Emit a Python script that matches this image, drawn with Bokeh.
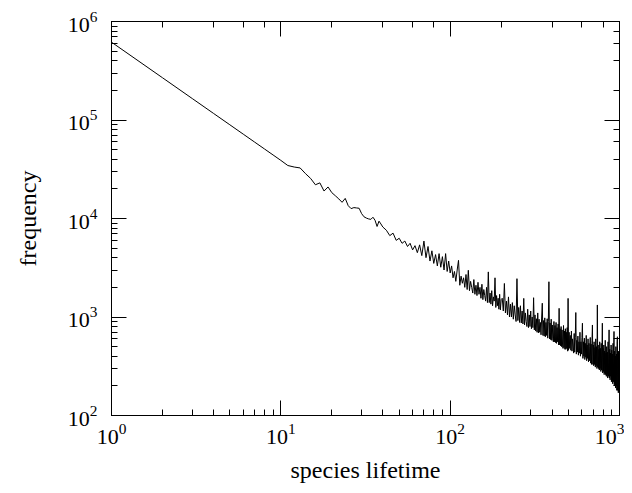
from bokeh.plotting import figure
from bokeh.models import LogAxis, LogTicker, Range1d, ColumnDataSource, CustomJSTickFormatter
from bokeh.embed import file_html
from bokeh.resources import INLINE

lifetime_a = list(range(1, 41))
freq_a = [617000, 268500, 165000, 116800, 89400, 71800, 59700, 50850, 44150, 38900,
          34500, 33300, 32600, 28500, 25500, 22000, 23000, 19000, 20900, 18300,
          17000, 15800, 14600, 16000, 13500, 12600, 12900, 12800, 12700, 11200,
          10400, 10100, 9900, 9800, 10300, 9600, 8300, 9400, 8800, 8200]

lifetime_b = list(range(42, 101, 2))
freq_b = [7600, 6700, 7100, 6000, 6300, 5600, 5900, 5200, 5600, 4800,
          5300, 4500, 5400, 4200, 5900, 4000, 5200, 3700, 4700, 3500,
          4300, 3300, 4400, 3200, 4100, 3000, 4400, 2900, 3700, 2800]

lifetime_c = list(range(102, 201, 2))
freq_c = [3300, 2500, 2900, 2300, 3000, 3760, 2100, 2600, 2200, 2500,
          2000, 2700, 1900, 2980, 1850, 2300, 2000, 1750, 2400, 1700,
          2100, 1650, 2250, 1700, 2000, 1550, 2150, 1500, 1900, 1650,
          1450, 2000, 1400, 2870, 1400, 1750, 1350, 1850, 1300, 1600,
          1450, 2500, 1250, 1650, 1300, 1550, 1200, 1700, 1180, 1500]

lifetime_d = list(range(203, 501, 3))
freq_d = [1550, 1150, 2190, 1100, 1450, 1050, 1600, 1000, 1350, 1000,
          1400, 950, 1300, 1050, 900, 2450, 920, 1250, 880, 1300,
          870, 1150, 850, 1545, 830, 1100, 900, 800, 1200, 780,
          1050, 800, 1150, 760, 1000, 780, 1570, 740, 1050, 720,
          960, 700, 1100, 690, 950, 700, 880, 660, 1000, 1380,
          650, 920, 640, 980, 630, 880, 650, 960, 610, 900,
          2280, 600, 870, 590, 950, 580, 830, 600, 560, 900,
          560, 820, 550, 880, 540, 780, 560, 850, 520, 1225,
          520, 760, 510, 800, 500, 740, 520, 480, 820, 490,
          720, 470, 760, 470, 700, 480, 780, 450, 1545, 460]

lifetime_e = list(range(504, 1001, 4))
freq_e = [700, 480, 650, 460, 720, 450, 600, 520, 430, 680,
          440, 620, 1110, 420, 580, 440, 640, 410, 560, 430,
          700, 400, 560, 420, 620, 865, 380, 560, 400, 610,
          370, 540, 390, 650, 360, 520, 380, 600, 350, 540,
          360, 500, 620, 340, 530, 330, 580, 830, 330, 520,
          320, 560, 330, 490, 310, 600, 320, 500, 300, 1325,
          310, 520, 300, 470, 290, 560, 300, 480, 280, 540,
          290, 450, 865, 270, 480, 280, 520, 260, 450, 270,
          580, 260, 430, 250, 500, 260, 440, 240, 560, 250,
          420, 740, 240, 470, 230, 430, 250, 520, 220, 460,
          230, 420, 210, 540, 220, 440, 713, 200, 450, 210,
          400, 190, 500, 200, 420, 180, 560, 630, 180, 420,
          170, 450, 175, 380, 200]

lifetime = lifetime_a + lifetime_b + lifetime_c + lifetime_d + lifetime_e
frequency = freq_a + freq_b + freq_c + freq_d + freq_e
n = min(len(lifetime), len(frequency))
source = ColumnDataSource(data=dict(lifetime=lifetime[:n], frequency=frequency[:n]))

FONT = "Liberation Serif"

p = figure(width=624, height=485, x_axis_type="log", y_axis_type="log",
           x_range=Range1d(1, 1000), y_range=Range1d(100, 1e6),
           output_backend="svg", toolbar_location=None,
           min_border_left=111, min_border_right=5, min_border_top=21, min_border_bottom=67,
           background_fill_color="white", border_fill_color="white")
p.grid.visible = False
p.outline_line_color = "black"
p.outline_line_width = 1

p.line("lifetime", "frequency", source=source, line_color="black", line_width=1)

p.xaxis.axis_label = "species lifetime"
p.yaxis.axis_label = "frequency"

for ax in (p.xaxis[0], p.yaxis[0]):
    ax.axis_line_color = "black"
    ax.major_tick_line_color = "black"
    ax.minor_tick_line_color = "black"
    ax.major_tick_in = 15
    ax.major_tick_out = 0
    ax.minor_tick_in = 6
    ax.minor_tick_out = 0
    ax.major_label_text_font = FONT
    ax.major_label_text_font_size = "22px"
    ax.major_label_text_color = "black"
    ax.axis_label_text_font = FONT
    ax.axis_label_text_font_size = "24px"
    ax.axis_label_text_font_style = "normal"
    ax.axis_label_text_color = "black"

p.xaxis[0].major_label_standoff = 8
p.xaxis[0].axis_label_standoff = 10
p.yaxis[0].major_label_standoff = 14
p.yaxis[0].axis_label_standoff = 24

for loc in ("above", "right"):
    ax = LogAxis(ticker=LogTicker(), formatter=CustomJSTickFormatter(code="return ''"))
    ax.axis_line_color = "black"
    ax.major_tick_line_color = "black"
    ax.minor_tick_line_color = "black"
    ax.major_tick_in = 15
    ax.major_tick_out = 0
    ax.minor_tick_in = 6
    ax.minor_tick_out = 0
    ax.major_label_standoff = 0
    ax.major_label_text_font_size = "1px"
    p.add_layout(ax, loc)

open("out.html", "w").write(file_html(p, INLINE))
